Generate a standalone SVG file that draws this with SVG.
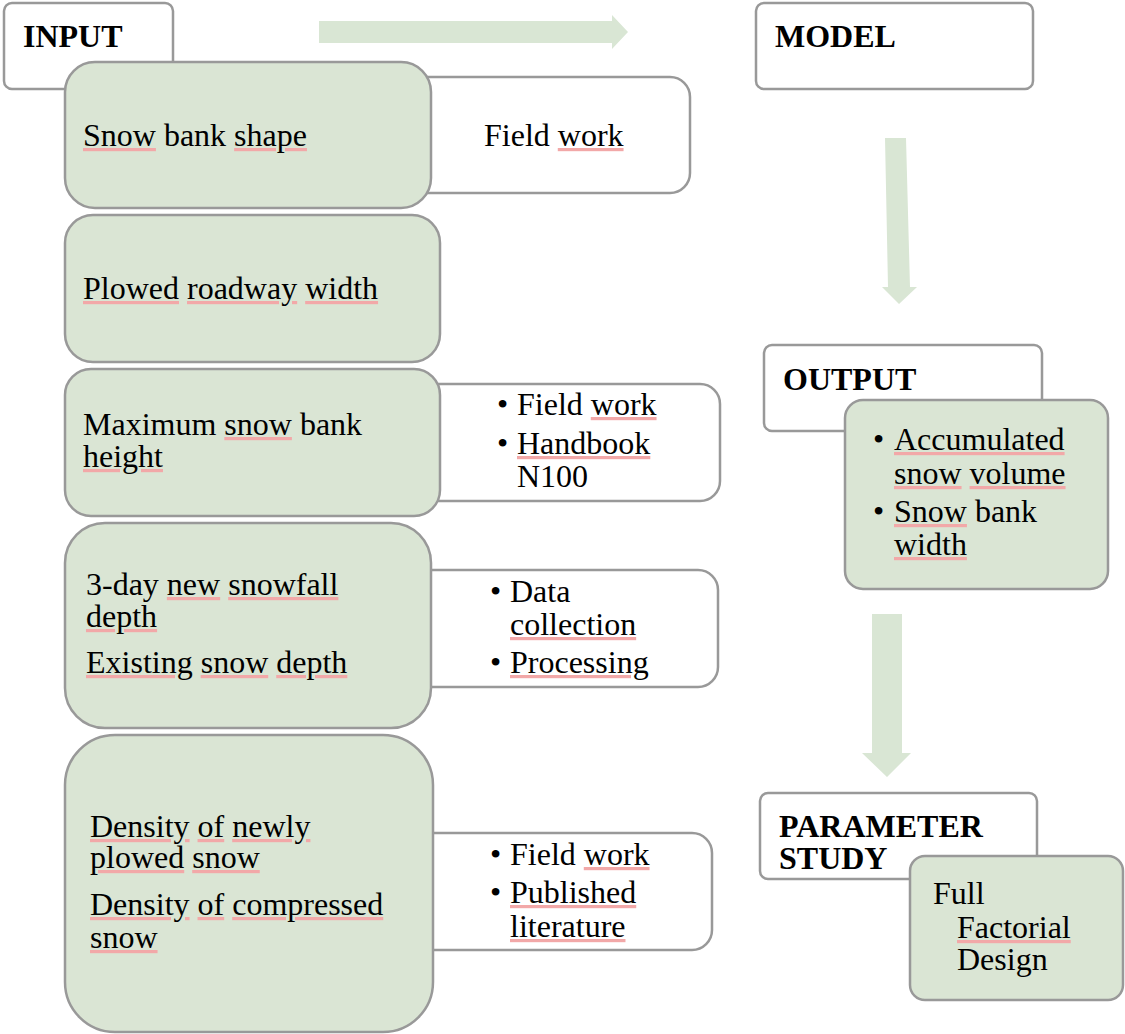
<svg xmlns="http://www.w3.org/2000/svg" width="1125" height="1034" viewBox="0 0 1125 1034">
<style>
.box{fill:#ffffff;stroke:#999999;stroke-width:2.5}
.g{fill:#dae5d4;stroke:#999999;stroke-width:2.5}
.arr{fill:#d9e6d4}
text{font-family:"Liberation Serif","Times New Roman",serif;font-size:32px;fill:#000}
.b{font-weight:bold}
.sp{text-decoration:underline;text-decoration-thickness:1px;fill:#f2a8a8}
.sp tspan{fill:#000}
</style>
<rect width="1125" height="1034" fill="#ffffff"/>
<g id="connectors">
<path class="arr" d="M319,21 H612 V15 L628,32 L612,49 V43 H319 Z"/>
<path class="arr" d="M885,138 H906 L910,287 H917 L899,304 L882,287 H888 Z"/>
<path class="arr" d="M872,614 H902 V753 H911 L887,777 L862,753 H872 Z"/>
</g>
<g id="input">
<rect class="box" x="4" y="3" width="169" height="86" rx="8"/>
<text class="b" x="23" y="47">INPUT</text>
</g>
<g id="src-fieldwork1">
<rect class="box" x="400" y="77" width="290" height="116" rx="20"/>
<text x="484" y="146">Field <tspan class="sp"><tspan>work</tspan></tspan></text>
</g>
<g id="snow-bank-shape">
<rect class="g" x="65" y="62" width="366" height="146" rx="30"/>
<text x="83" y="146"><tspan class="sp"><tspan>Snow</tspan></tspan> bank <tspan class="sp"><tspan>shape</tspan></tspan></text>
</g>
<g id="plowed-roadway-width">
<rect class="g" x="65" y="215" width="375" height="147" rx="28"/>
<text x="83" y="299"><tspan class="sp"><tspan>Plowed</tspan></tspan> <tspan class="sp"><tspan>roadway</tspan></tspan> <tspan class="sp"><tspan>width</tspan></tspan></text>
</g>
<g id="src-height">
<rect class="box" x="400" y="384" width="320" height="117" rx="20"/>
<text x="497" y="415">•</text>
<text x="517" y="415">Field <tspan class="sp"><tspan>work</tspan></tspan></text>
<text x="497" y="454">•</text>
<text x="517" y="454"><tspan class="sp"><tspan>Handbook</tspan></tspan></text>
<text x="517" y="487">N100</text>
</g>
<g id="max-snow-bank-height">
<rect class="g" x="65" y="369" width="375" height="147" rx="26"/>
<text x="83" y="435">Maximum <tspan class="sp"><tspan>snow</tspan></tspan> bank</text>
<text x="83" y="467"><tspan class="sp"><tspan>height</tspan></tspan></text>
</g>
<g id="src-snow">
<rect class="box" x="400" y="570" width="318" height="117" rx="20"/>
<text x="490" y="602">•</text>
<text x="510" y="602">Data</text>
<text x="510" y="635"><tspan class="sp"><tspan>collection</tspan></tspan></text>
<text x="490" y="673">•</text>
<text x="510" y="673"><tspan class="sp"><tspan>Processing</tspan></tspan></text>
</g>
<g id="snow-depth">
<rect class="g" x="65" y="523" width="366" height="205" rx="40"/>
<text x="86" y="595">3-day <tspan class="sp"><tspan>new</tspan></tspan> <tspan class="sp"><tspan>snowfall</tspan></tspan></text>
<text x="86" y="627"><tspan class="sp"><tspan>depth</tspan></tspan></text>
<text x="86" y="673"><tspan class="sp"><tspan>Existing</tspan></tspan> <tspan class="sp"><tspan>snow</tspan></tspan> <tspan class="sp"><tspan>depth</tspan></tspan></text>
</g>
<g id="src-density">
<rect class="box" x="400" y="833" width="312" height="117" rx="20"/>
<text x="490" y="865">•</text>
<text x="510" y="865">Field <tspan class="sp"><tspan>work</tspan></tspan></text>
<text x="490" y="903">•</text>
<text x="510" y="903"><tspan class="sp"><tspan>Published</tspan></tspan></text>
<text x="510" y="937"><tspan class="sp"><tspan>literature</tspan></tspan></text>
</g>
<g id="density">
<rect class="g" x="65" y="735" width="368" height="297" rx="50"/>
<text x="90" y="837"><tspan class="sp"><tspan>Density</tspan></tspan> <tspan class="sp"><tspan>of</tspan></tspan> <tspan class="sp"><tspan>newly</tspan></tspan></text>
<text x="90" y="868"><tspan class="sp"><tspan>plowed</tspan></tspan> <tspan class="sp"><tspan>snow</tspan></tspan></text>
<text x="90" y="915"><tspan class="sp"><tspan>Density</tspan></tspan> <tspan class="sp"><tspan>of</tspan></tspan> <tspan class="sp"><tspan>compressed</tspan></tspan></text>
<text x="90" y="948"><tspan class="sp"><tspan>snow</tspan></tspan></text>
</g>
<g id="model">
<rect class="box" x="756" y="3" width="277" height="86" rx="8"/>
<text class="b" x="775" y="47">MODEL</text>
</g>
<g id="output">
<rect class="box" x="764" y="345" width="278" height="86" rx="8"/>
<text class="b" x="783" y="390">OUTPUT</text>
</g>
<g id="output-items">
<rect class="g" x="845" y="400" width="263" height="189" rx="18"/>
<text x="873" y="450">•</text>
<text x="894" y="450"><tspan class="sp"><tspan>Accumulated</tspan></tspan></text>
<text x="894" y="484"><tspan class="sp"><tspan>snow</tspan></tspan> <tspan class="sp"><tspan>volume</tspan></tspan></text>
<text x="873" y="522">•</text>
<text x="894" y="522"><tspan class="sp"><tspan>Snow</tspan></tspan> bank</text>
<text x="894" y="555"><tspan class="sp"><tspan>width</tspan></tspan></text>
</g>
<g id="parameter-study">
<rect class="box" x="760" y="793" width="277" height="86" rx="8"/>
<text class="b" x="779" y="837">PARAMETER</text>
<text class="b" x="779" y="869">STUDY</text>
</g>
<g id="full-factorial">
<rect class="g" x="910" y="856" width="213" height="144" rx="15"/>
<text x="933" y="904">Full</text>
<text x="957" y="938"><tspan class="sp"><tspan>Factorial</tspan></tspan></text>
<text x="957" y="970">Design</text>
</g>
</svg>
